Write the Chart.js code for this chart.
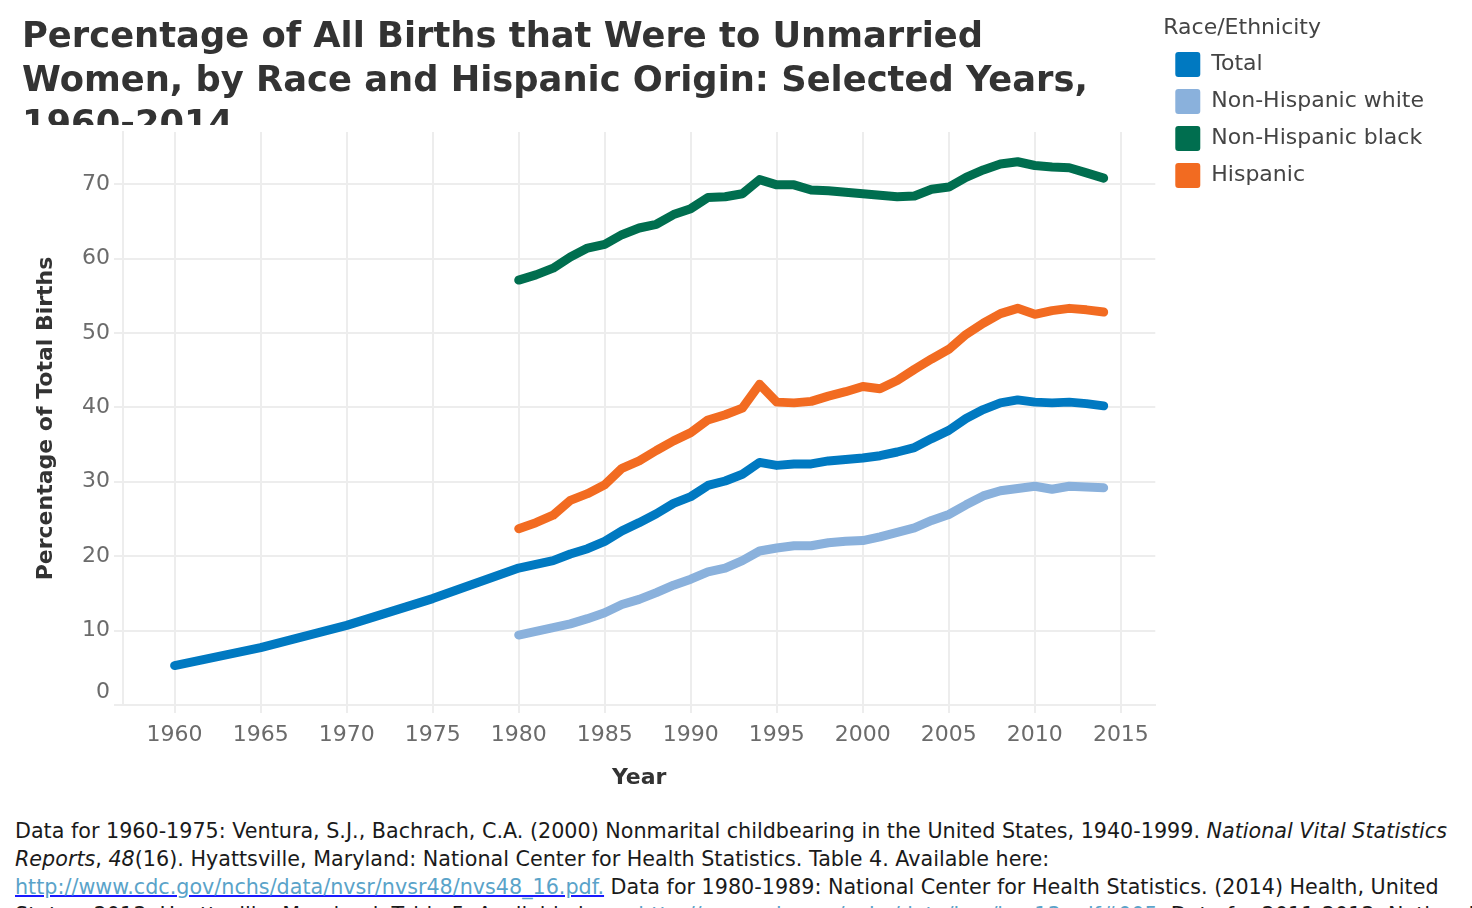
<!DOCTYPE html>
<html>
<head>
<meta charset="utf-8">
<script src="https://cdn.jsdelivr.net/npm/chart.js@4.4.1/dist/chart.umd.min.js"></script>
<style>
  html, body { margin: 0; padding: 0; background: #ffffff; overflow: hidden; }
  #wrap { position: relative; width: 1472px; height: 908px; overflow: hidden; }
  #chart { position: absolute; left: 0; top: 0; }
  #source {
    position: absolute; left: 15px; top: 817px; width: 1450px;
    font-family: "DejaVu Sans", sans-serif; font-size: 20.7px; line-height: 28px;
    color: #1a1a1a; white-space: nowrap;
  }
  #source a { color: #5aa3c9; text-decoration: underline; text-decoration-color: #1a1aff; text-decoration-thickness: 2px; }
</style>
</head>
<body>
<div id="wrap">
  <canvas id="chart" width="1472" height="805"></canvas>
  <div id="source">
    Data for 1960-1975: Ventura, S.J., Bachrach, C.A. (2000) Nonmarital childbearing in the United States, 1940-1999. <i>National Vital Statistics</i><br>
    <i>Reports</i>, <i>48</i>(16). Hyattsville, Maryland: National Center for Health Statistics. Table 4. Available here:<br>
    <a href="http://www.cdc.gov/nchs/data/nvsr/nvsr48/nvs48_16.pdf">http://www.cdc.gov/nchs/data/nvsr/nvsr48/nvs48_16.pdf.</a> Data for 1980-1989: National Center for Health Statistics. (2014) Health, United<br>
    States, 2013. Hyattsville, Maryland. Table 5. Available here: <a href="http://www.cdc.gov/nchs/data/hus/hus13.pdf">http://www.cdc.gov/nchs/data/hus/hus13.pdf#005.</a> Data for 2011-2013: National
  </div>
</div>
<script>
// ---------- data ----------
const titleLines = [
  'Percentage of All Births that Were to Unmarried',
  'Women, by Race and Hispanic Origin: Selected Years,',
  '1960-2014'
];
const seriesNames = ['Total', 'Non-Hispanic white', 'Non-Hispanic black', 'Hispanic'];
const seriesColors = ['#0079c1', '#8ab1dc', '#006e4f', '#f26b21'];

const totalYears = [1960, 1965, 1970, 1975,
  1980, 1981, 1982, 1983, 1984, 1985, 1986, 1987, 1988, 1989,
  1990, 1991, 1992, 1993, 1994, 1995, 1996, 1997, 1998, 1999,
  2000, 2001, 2002, 2003, 2004, 2005, 2006, 2007, 2008, 2009,
  2010, 2011, 2012, 2013, 2014];
const totalValues = [5.3, 7.7, 10.7, 14.3,
  18.4, 18.9, 19.4, 20.3, 21.0, 22.0, 23.4, 24.5, 25.7, 27.1,
  28.0, 29.5, 30.1, 31.0, 32.6, 32.2, 32.4, 32.4, 32.8, 33.0,
  33.2, 33.5, 34.0, 34.6, 35.8, 36.9, 38.5, 39.7, 40.6, 41.0,
  40.7, 40.6, 40.7, 40.5, 40.2];

const groupYears = [
  1980, 1981, 1982, 1983, 1984, 1985, 1986, 1987, 1988, 1989,
  1990, 1991, 1992, 1993, 1994, 1995, 1996, 1997, 1998, 1999,
  2000, 2001, 2002, 2003, 2004, 2005, 2006, 2007, 2008, 2009,
  2010, 2011, 2012, 2013, 2014];
const whiteValues = [
  9.4, 9.9, 10.4, 10.9, 11.6, 12.4, 13.5, 14.2, 15.1, 16.1,
  16.9, 17.9, 18.4, 19.4, 20.7, 21.1, 21.4, 21.4, 21.8, 22.0,
  22.1, 22.6, 23.2, 23.8, 24.8, 25.6, 26.9, 28.1, 28.8, 29.1,
  29.4, 29.0, 29.4, 29.3, 29.2];
const blackValues = [
  57.1, 57.8, 58.7, 60.2, 61.4, 61.9, 63.2, 64.1, 64.6, 65.9,
  66.7, 68.2, 68.3, 68.7, 70.6, 69.9, 69.9, 69.2, 69.1, 68.9,
  68.7, 68.5, 68.3, 68.4, 69.3, 69.6, 70.9, 71.9, 72.7, 73.0,
  72.5, 72.3, 72.2, 71.5, 70.8];
const hispanicValues = [
  23.7, 24.5, 25.5, 27.5, 28.4, 29.6, 31.8, 32.8, 34.2, 35.5,
  36.6, 38.3, 39.0, 39.9, 43.1, 40.7, 40.6, 40.8, 41.5, 42.1,
  42.8, 42.5, 43.6, 45.1, 46.5, 47.8, 49.8, 51.3, 52.6, 53.3,
  52.5, 53.0, 53.3, 53.1, 52.8];

const xTickValues = [1960, 1965, 1970, 1975, 1980, 1985, 1990, 1995, 2000, 2005, 2010, 2015];
const yTickValues = [0, 10, 20, 30, 40, 50, 60, 70];

// ---------- styling ----------
const FONT = 'DejaVu Sans';
const GRID = '#ededed';
const TICK_COLOR = '#6b6b6b';
const TITLE_CLIP_Y = 125;

function pts(xs, ys) { return xs.map((x, i) => ({ x: x, y: ys[i] })); }

function lineDs(i, data) {
  return {
    label: seriesNames[i],
    data: data,
    borderColor: seriesColors[i],
    backgroundColor: seriesColors[i],
    borderWidth: 9,
    pointRadius: 0,
    pointHoverRadius: 0,
    borderCapStyle: 'round',
    borderJoinStyle: 'round',
    tension: 0,
    fill: false
  };
}

const clipTitle = {
  id: 'clipTitle',
  beforeDraw(chart) {
    const tb = chart.titleBlock;
    if (tb && !tb.__wrapped) {
      const orig = tb.draw;
      tb.draw = function () {
        const c = chart.ctx;
        c.save();
        c.beginPath();
        c.rect(0, 0, chart.width, TITLE_CLIP_Y);
        c.clip();
        orig.apply(this, arguments);
        c.restore();
      };
      tb.__wrapped = true;
    }
  }
};

new Chart(document.getElementById('chart'), {
  type: 'line',
  data: {
    datasets: [
      lineDs(0, pts(totalYears, totalValues)),
      lineDs(1, pts(groupYears, whiteValues)),
      lineDs(2, pts(groupYears, blackValues)),
      lineDs(3, pts(groupYears, hispanicValues))
    ]
  },
  options: {
    responsive: false,
    animation: false,
    devicePixelRatio: 1,
    layout: { padding: { left: 22, right: 38, top: 0, bottom: 0 } },
    scales: {
      x: {
        type: 'linear',
        min: 1957, max: 2017,
        afterBuildTicks: s => { s.ticks = xTickValues.map(v => ({ value: v })); },
        afterFit: s => { s.height = 100; },
        grid: { color: GRID, lineWidth: 2, tickLength: 8, drawTicks: true },
        border: { display: true, color: GRID, width: 2 },
        ticks: {
          padding: 9, color: TICK_COLOR, autoSkip: false, maxRotation: 0,
          font: { family: FONT, size: 22 },
          callback: v => String(v)
        },
        title: {
          display: true, text: 'Year', color: '#333333',
          font: { family: FONT, size: 22, weight: 'bold' },
          padding: { top: 0, bottom: 14 }
        }
      },
      y: {
        type: 'linear',
        min: 0, max: 77,
        afterBuildTicks: s => { s.ticks = yTickValues.map(v => ({ value: v })); },
        afterFit: s => { s.width = 101; },
        grid: { color: GRID, lineWidth: 2, tickLength: 9, drawTicks: true },
        border: { display: true, color: GRID, width: 2 },
        ticks: {
          padding: 4, color: TICK_COLOR,
          font: { family: FONT, size: 22 },
          callback: v => (v === 0 ? ['0', ''] : String(v))
        },
        title: {
          display: true, text: 'Percentage of Total Births', color: '#333333',
          font: { family: FONT, size: 22, weight: 'bold' },
          padding: { top: 11, bottom: 0 }
        }
      },
      pad: {
        type: 'linear', position: 'right', display: true,
        grid: { display: false }, border: { display: false },
        ticks: { display: false },
        afterFit: s => { s.width = 8; }
      }
    },
    plugins: {
      tooltip: { enabled: false },
      title: {
        display: true, text: titleLines, align: 'start', position: 'top', fullSize: true,
        color: '#333333',
        font: { family: FONT, size: 35.3, weight: 'bold', lineHeight: 44 / 35.3 },
        padding: { top: 16, bottom: -16 }
      },
      legend: {
        display: true, position: 'right', align: 'start', fullSize: true, maxWidth: 400,
        title: {
          display: true, text: 'Race/Ethnicity', color: '#444444', position: 'start',
          font: { family: FONT, size: 22, lineHeight: 1 },
          padding: { top: 17, bottom: 1 }
        },
        labels: {
          boxWidth: 25, boxHeight: 25, padding: 12, color: '#444444',
          font: { family: FONT, size: 22 },
          useBorderRadius: true, borderRadius: 3,
          generateLabels: chart => chart.data.datasets.map((ds, i) => ({
            text: ds.label,
            fillStyle: ds.borderColor,
            strokeStyle: ds.borderColor,
            lineWidth: 0,
            borderRadius: 3,
            hidden: false,
            datasetIndex: i
          }))
        }
      }
    }
  },
  plugins: [clipTitle]
});
</script>
</body>
</html>
